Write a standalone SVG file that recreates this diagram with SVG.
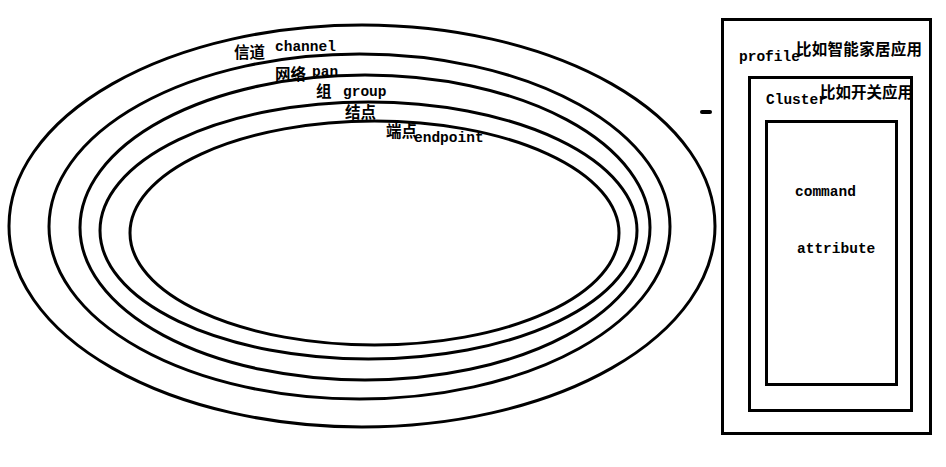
<svg xmlns="http://www.w3.org/2000/svg" width="946" height="467" viewBox="0 0 946 467">
<style>
.sh{fill:none;stroke:#000;stroke-width:3}
.lt{font-family:"Liberation Mono","DejaVu Sans Mono",monospace;font-size:14.5px;font-weight:bold;fill:#000}
.cj{font-family:"Noto Sans CJK SC","Noto Sans CJK JP",sans-serif;font-size:15.5px;font-weight:bold;fill:#000}
</style>
<rect width="946" height="467" fill="#fff"/>
<g id="channel">
<ellipse class="sh" cx="362" cy="226" rx="353" ry="201"/>
<text class="cj" x="234" y="58">信道</text>
<text class="lt" x="275" y="51">channel</text>
</g>
<g id="pan">
<ellipse class="sh" cx="359.5" cy="226.5" rx="310.5" ry="172.5"/>
<text class="cj" x="275" y="80">网络</text>
<text class="lt" x="312" y="76">pan</text>
</g>
<g id="group">
<ellipse class="sh" cx="365" cy="227.5" rx="285" ry="152.5"/>
<text class="cj" x="316" y="97">组</text>
<text class="lt" x="343" y="96">group</text>
</g>
<g id="node">
<ellipse class="sh" cx="368.5" cy="230.5" rx="268.5" ry="128.5"/>
<text class="cj" x="345" y="118">结点</text>
</g>
<g id="endpoint">
<ellipse class="sh" cx="374.5" cy="233" rx="244.5" ry="112"/>
<text class="cj" x="386" y="137">端点</text>
<text class="lt" x="414" y="142">endpoint</text>
</g>
<g id="connectors">
<line x1="702" y1="112" x2="710" y2="112" stroke="#000" stroke-width="4" stroke-linecap="round"/>
</g>
<g id="profile">
<rect class="sh" x="722.5" y="19.5" width="208" height="414"/>
<text class="lt" x="739" y="61">profile</text>
<text class="cj" x="796" y="55" textLength="126">比如智能家居应用</text>
</g>
<g id="cluster">
<rect class="sh" x="749.5" y="77.5" width="162" height="333"/>
<text class="lt" x="766" y="104">Cluster</text>
<text class="cj" x="820" y="98" textLength="93">比如开关应用</text>
</g>
<g id="command">
<rect class="sh" x="766.5" y="121.5" width="130" height="263"/>
<text class="lt" x="795" y="196">command</text>
<text class="lt" x="797" y="253">attribute</text>
</g>
</svg>
